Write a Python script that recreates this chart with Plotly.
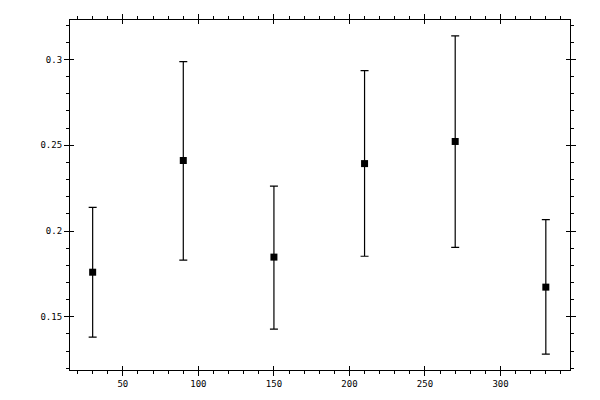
import plotly.graph_objects as go

angle = [30, 90, 150, 210, 270, 330]
value = [0.176, 0.2411, 0.1848, 0.2393, 0.2522, 0.1673]
upper = [0.2138, 0.2987, 0.2262, 0.2935, 0.3138, 0.2066]
lower = [0.1382, 0.183, 0.1428, 0.1853, 0.1905, 0.1283]

err_plus = [u - v for u, v in zip(upper, value)]
err_minus = [v - l for v, l in zip(value, lower)]

fig = go.Figure()
fig.add_trace(go.Scatter(
    x=angle, y=value, mode="markers",
    marker=dict(symbol="square", size=7, color="black"),
    error_y=dict(type="data", symmetric=False, array=err_plus, arrayminus=err_minus,
                 color="black", thickness=1.2, width=4),
    showlegend=False,
))
# dummy trace so the second pair of axes (inner major ticks) gets drawn
fig.add_trace(go.Scatter(x=angle, y=value, xaxis="x2", yaxis="y2",
                         mode="markers", marker=dict(opacity=0), showlegend=False,
                         hoverinfo="skip"))

font = dict(family="DejaVu Sans Mono", size=9, color="black")
ax = dict(showgrid=False, zeroline=False, showline=True, linecolor="black",
          linewidth=1.2, mirror="ticks", ticks="outside", ticklen=5,
          tickcolor="black", tickwidth=1.2, tickfont=font, automargin=False)

# page body has an 8px margin, so the figure is a bit smaller than the window
fig.update_layout(
    width=592, height=392,
    margin=dict(l=62, r=30, t=12, b=30),
    plot_bgcolor="white", paper_bgcolor="white",
    xaxis=dict(ax, range=[15, 346], tick0=0, dtick=50,
               minor=dict(dtick=10, ticks="outside", ticklen=3, tickcolor="black")),
    yaxis=dict(ax, range=[0.119, 0.323], tick0=0, dtick=0.05,
               minor=dict(dtick=0.01, ticks="outside", ticklen=3, tickcolor="black")),
    xaxis2=dict(overlaying="x", matches="x", showline=False, showgrid=False,
                zeroline=False, showticklabels=False, ticks="inside", ticklen=4,
                tickwidth=1.2, tickcolor="black", mirror="ticks", tick0=0, dtick=50),
    yaxis2=dict(overlaying="y", matches="y", showline=False, showgrid=False,
                zeroline=False, showticklabels=False, ticks="inside", ticklen=4,
                tickwidth=1.2, tickcolor="black", mirror="ticks", tick0=0, dtick=0.05),
)

fig.write_html("out.html")
